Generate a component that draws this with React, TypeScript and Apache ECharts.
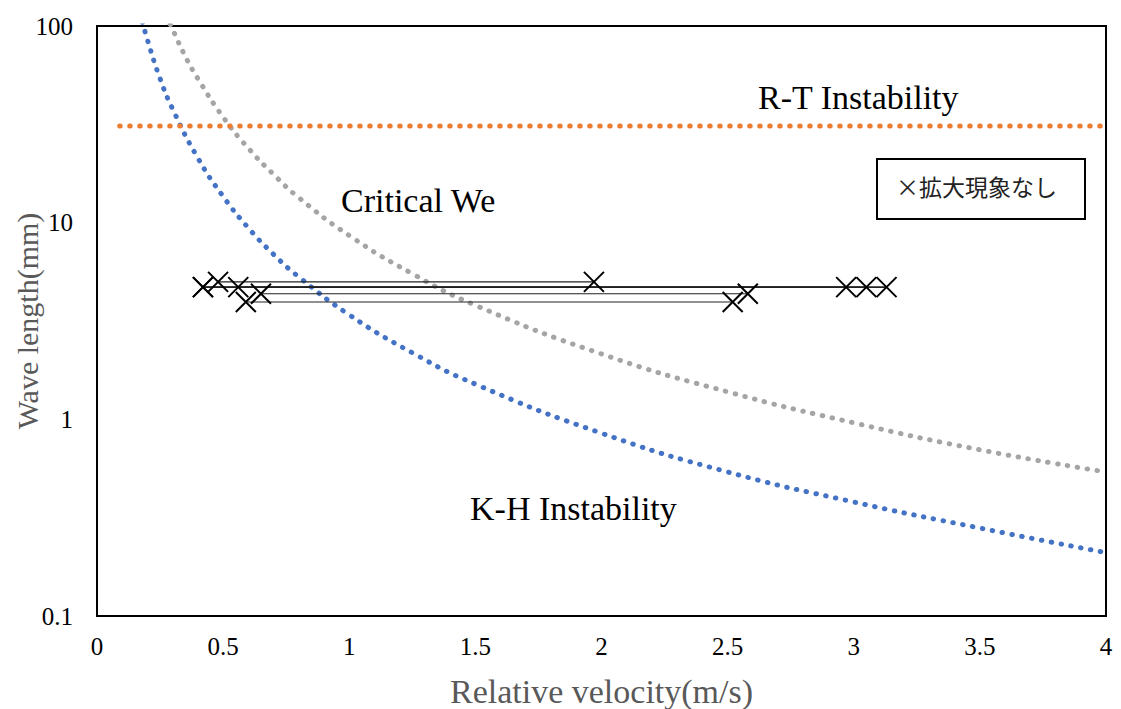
import React, { useEffect, useRef } from "react";
import * as echarts from "echarts";

// K-H instability boundary (blue dotted)
const khCurve: [number, number][] = [
  [0.18, 105], [0.2, 85], [0.25, 54], [0.3, 37.8], [0.4, 21.3], [0.5, 13.6],
  [0.6, 9.4], [0.7, 6.9], [0.8, 5.3], [1.0, 3.4], [1.25, 2.18], [1.5, 1.51],
  [2.0, 0.85], [2.5, 0.54], [3.0, 0.38], [3.5, 0.28], [4.0, 0.21],
];
// Critical We boundary (gray dotted)
const weCurve: [number, number][] = [
  [0.29, 102], [0.3, 96], [0.35, 70], [0.4, 54], [0.5, 34.4], [0.6, 23.9],
  [0.7, 17.6], [0.8, 13.4], [1.0, 8.6], [1.25, 5.5], [1.5, 3.8], [2.0, 2.15],
  [2.5, 1.38], [3.0, 0.96], [3.5, 0.7], [4.0, 0.54],
];
// R-T instability level (orange dotted)
const rtLine: [number, number][] = [[0.09, 31], [4.0, 31]];

// Experimental ranges without amplification (× markers)
const run1: [number, number][] = [[0.42, 4.7], [3.13, 4.7]];
const run2: [number, number][] = [[0.56, 4.7], [3.05, 4.7]];
const run3: [number, number][] = [[0.42, 4.7], [2.97, 4.7]];
const run4: [number, number][] = [[0.48, 5.0], [1.97, 5.0]];
const run5: [number, number][] = [[0.65, 4.35], [2.58, 4.35]];
const run6: [number, number][] = [[0.59, 3.95], [2.52, 3.95]];

const xTicks = [0, 0.5, 1, 1.5, 2, 2.5, 3, 3.5, 4];

const SERIF = "'Liberation Serif', 'Times New Roman', serif";
const CROSS = "path://M0,0L10,10M10,0L0,10";

export default function App() {
  const ref = useRef<HTMLDivElement>(null);
  useEffect(() => {
    if (!ref.current) return;
    const chart = echarts.init(ref.current, undefined, { renderer: "svg" });
    const runSeries = (data: [number, number][], w: number) => ({
      type: "line",
      data,
      symbol: CROSS,
      symbolSize: 20,
      showSymbol: true,
      lineStyle: { color: "#222", width: w },
      itemStyle: { color: "#000", borderColor: "#000", borderWidth: 2 },
      z: 5,
    });
    const dotted = (data: [number, number][], color: string) => ({
      type: "line",
      data,
      smooth: true,
      symbol: "none",
      lineStyle: { color, width: 5, type: [0.5, 9.5], cap: "round" },
      z: 3,
    });
    chart.setOption({
      animation: false,
      backgroundColor: "#fff",
      grid: {
        left: 97, right: 15, top: 26, bottom: 93,
        containLabel: false, outerBoundsMode: "none",
        show: true, borderColor: "#000", borderWidth: 2, backgroundColor: "transparent",
      },
      xAxis: {
        type: "value", min: 0, max: 4, interval: 0.5,
        axisLine: { show: false }, axisTick: { show: false }, splitLine: { show: false },
        axisLabel: {
          color: "#000", fontFamily: SERIF, fontSize: 25, margin: 18,
          formatter: (v: number) => (xTicks.includes(v) ? String(v) : ""),
        },
        name: "Relative velocity(m/s)", nameLocation: "middle", nameGap: 58,
        nameMoveOverlap: false,
        nameTextStyle: { color: "#595959", fontFamily: SERIF, fontSize: 34 },
      },
      yAxis: {
        type: "log", logBase: 10, min: 0.1, max: 100,
        axisLine: { show: false }, axisTick: { show: false }, splitLine: { show: false },
        axisLabel: { color: "#000", fontFamily: SERIF, fontSize: 25, margin: 24 },
        name: "Wave length(mm)", nameLocation: "middle", nameGap: 55,
        nameMoveOverlap: false,
        nameTextStyle: { color: "#595959", fontFamily: SERIF, fontSize: 30 },
      },
      series: [
        dotted(khCurve, "#4472C4"),
        dotted(weCurve, "#A5A5A5"),
        { ...dotted(rtLine, "#ED7D31"), smooth: false },
        runSeries(run1, 1.6),
        runSeries(run2, 1.2),
        runSeries(run3, 1.2),
        runSeries(run4, 1.2),
        runSeries(run5, 1.2),
        runSeries(run6, 1.2),
      ],
      graphic: [
        { type: "text", left: 758, top: 80, style: { text: "R-T Instability", fill: "#000", font: `34px ${SERIF}` } },
        { type: "text", left: 341, top: 183, style: { text: "Critical We", fill: "#000", font: `34px ${SERIF}` } },
        { type: "text", left: 470, top: 491, style: { text: "K-H Instability", fill: "#000", font: `34px ${SERIF}` } },
        {
          type: "rect", left: 876, top: 158,
          shape: { width: 208, height: 60 },
          style: { fill: "#fff", stroke: "#000", lineWidth: 2 },
          z: 10,
        },
        {
          type: "text", left: 896, top: 174, z: 11,
          style: { text: "×拡大現象なし", fill: "#222", font: "23px 'Noto Sans CJK JP', sans-serif" },
        },
      ],
    });
    return () => chart.dispose();
  }, []);
  return (
    <div
      ref={ref}
      style={{ position: "fixed", left: 0, top: 0, width: 1121, height: 709 }}
    />
  );
}
